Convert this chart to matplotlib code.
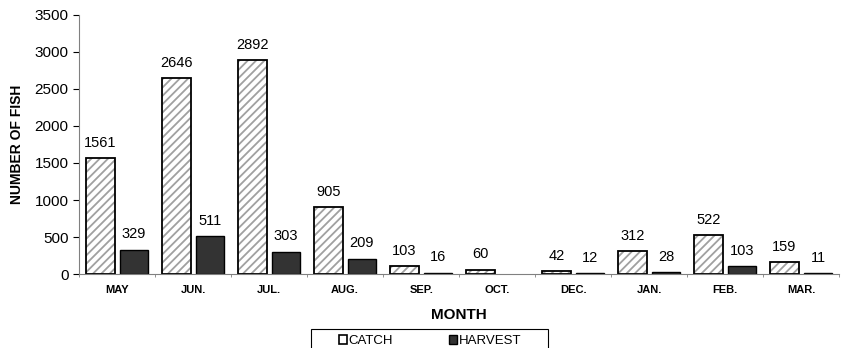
import matplotlib
matplotlib.use("Agg")
import matplotlib.pyplot as plt
import numpy as np
from matplotlib.patches import Patch, Rectangle

months = ["MAY", "JUN.", "JUL.", "AUG.", "SEP.", "OCT.", "DEC.", "JAN.", "FEB.", "MAR."]
catch = [1561, 2646, 2892, 905, 103, 60, 42, 312, 522, 159]
harvest = [329, 511, 303, 209, 16, np.nan, 12, 28, 103, 11]

plt.rcParams['font.family'] = ['Liberation Sans', 'DejaVu Sans']
plt.rcParams['hatch.linewidth'] = 1.3

fig = plt.figure(figsize=(8.41, 3.48), dpi=100)
ax = fig.add_axes([0.094, 0.2126, 0.904, 0.7444])

x = np.arange(len(months))
w = 0.375
gap = 0.033

# catch: gray hatch layer, then black outline on top
ax.bar(x - gap - w, catch, width=w, align='edge', color='white',
       edgecolor='#a0a0a0', linewidth=0, hatch='////')
b1 = ax.bar(x - gap - w, catch, width=w, align='edge', color='none',
            edgecolor='black', linewidth=1.3)
b2 = ax.bar(x + gap, harvest, width=w, align='edge', color='#333333',
            edgecolor='black', linewidth=1.0)

ax.bar_label(b1, labels=[str(v) for v in catch], padding=6, fontsize=10.5)
ax.bar_label(b2, labels=['' if np.isnan(v) else str(int(v)) for v in harvest],
             padding=6, fontsize=10.5)

ax.set_xlim(-0.5, len(months) - 0.5)
ax.set_ylim(0, 3500)
ax.set_yticks(np.arange(0, 3501, 500))
ax.set_xticks(x)
ax.set_xticklabels(months, fontsize=8, fontweight='bold')
ax.set_xticks(np.arange(len(months) + 1) - 0.5, minor=True)
ax.tick_params(axis='x', which='major', length=0, pad=8)
ax.tick_params(axis='x', which='minor', length=2, direction='out', color='gray')
ax.tick_params(axis='y', labelsize=11, length=4, width=0.8)
ax.spines['top'].set_visible(False)
ax.spines['right'].set_visible(False)
ax.spines['left'].set_color('gray')
ax.spines['bottom'].set_color('gray')
ax.set_ylabel('NUMBER OF FISH', fontsize=10, fontweight='bold', labelpad=8)
ax.set_xlabel('MONTH', fontsize=11, fontweight='bold', labelpad=9)

# legend box (runs off the bottom edge like the original)
fig.patches.append(Rectangle((311 / 841, -0.05), 237 / 841, 0.05 + 19 / 348,
                             transform=fig.transFigure, facecolor='white',
                             edgecolor='black', linewidth=0.8))
handles = [Patch(facecolor='white', edgecolor='black', linewidth=1.2),
           Patch(facecolor='#333333', edgecolor='black', linewidth=1.0)]
leg = fig.legend(handles, ['CATCH', 'HARVEST'], loc='center',
                 bbox_to_anchor=(430 / 841, 1 - 341 / 348),
                 ncol=2, fontsize=9.5, frameon=False,
                 handlelength=0.6, handleheight=0.6, handletextpad=0.15,
                 columnspacing=4.2, borderpad=0, borderaxespad=0)

fig.savefig('out.png', dpi=100)
